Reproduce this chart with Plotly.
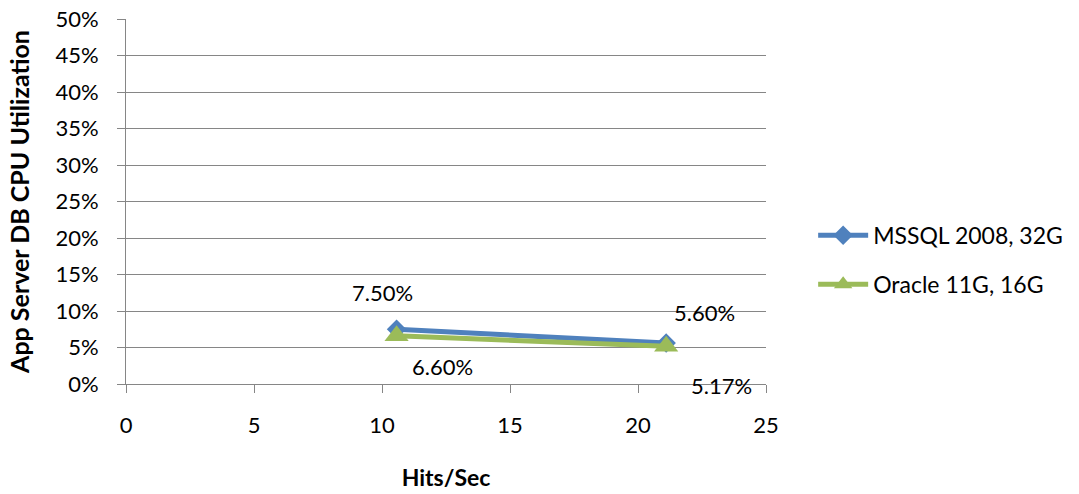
import plotly.graph_objects as go

hits = [10.57, 21.1]
mssql = [0.075, 0.056]
oracle = [0.066, 0.0517]
mssql_labels = ["7.50%", "5.60%"]
oracle_labels = ["6.60%", "5.17%"]
y_ticks = [i * 0.05 for i in range(11)]
x_ticks = [0, 5, 10, 15, 20, 25]

FONT = "Lato"
FS = 22
fig = go.Figure()
fig.add_trace(go.Scatter(x=hits, y=mssql, mode="lines+markers", name="MSSQL 2008, 32G",
                         legendgroup="a",
                         line=dict(color="#4F81BD", width=5),
                         marker=dict(symbol="diamond", size=15, color="#4F81BD")))
fig.add_trace(go.Scatter(x=hits, y=oracle, mode="lines+markers", name="Oracle 11G, 16G",
                         legendgroup="b",
                         line=dict(color="#9BBB59", width=5),
                         marker=dict(symbol="triangle-up", size=21, color="#9BBB59")))

# data labels (offsets as in the original)
shifts_m = [(-14, 37), (38, 31)]
shifts_o = [(46, -31), (55, -39)]
for xv, yv, t, (dx, dy) in zip(hits, mssql, mssql_labels, shifts_m):
    fig.add_annotation(x=xv, y=yv, text=t, showarrow=False, xshift=dx, yshift=dy,
                       font=dict(family=FONT, size=FS, color="#000"))
for xv, yv, t, (dx, dy) in zip(hits, oracle, oracle_labels, shifts_o):
    fig.add_annotation(x=xv, y=yv, text=t, showarrow=False, xshift=dx, yshift=dy,
                       font=dict(family=FONT, size=FS, color="#000"))

fig.update_layout(
    width=1079, height=494,
    paper_bgcolor="white", plot_bgcolor="white",
    margin=dict(l=126, r=312, t=19, b=110),
    font=dict(family=FONT, size=FS, color="#000"),
    legend=dict(x=1.072, y=0.34, xanchor="left", yanchor="middle",
                font=dict(family=FONT, size=23), tracegroupgap=16,
                itemwidth=50),
    showlegend=True,
)
fig.update_xaxes(range=[0, 25], tickvals=x_ticks, showgrid=False, zeroline=False,
                 automargin=False,
                 showline=True, linecolor="#868686", linewidth=1,
                 ticks="outside", ticklen=8, tickcolor="#868686",
                 ticklabelstandoff=14,
                 title=dict(text="<b>Hits/Sec</b>", font=dict(family=FONT, size=23), standoff=32))
fig.update_yaxes(range=[0, 0.5], tickvals=y_ticks, tickformat=".0%", showgrid=True,
                 automargin=False,
                 gridcolor="#868686", gridwidth=1, zeroline=False,
                 showline=True, linecolor="#868686", linewidth=1,
                 ticks="outside", ticklen=8, tickcolor="#868686",
                 ticklabelstandoff=14,
                 title=dict(text="<b>App Server DB CPU Utilization</b>", font=dict(family=FONT, size=25), standoff=18))

fig.write_html("out.html", config={"displayModeBar": False},
               post_script="document.body.style.margin='0';document.body.style.overflow='hidden';")
